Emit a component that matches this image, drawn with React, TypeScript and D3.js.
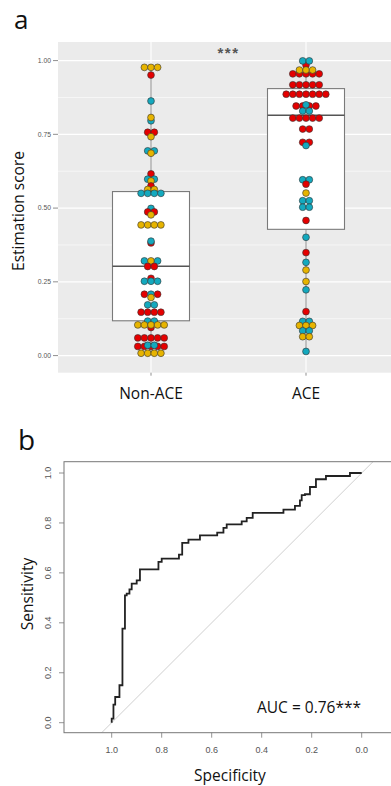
import React from "react";
import * as d3 from "d3";

// panel a: estimation scores, dot rows as [value, colours] (Y yellow, R red, T teal)
const groups = ["Non-ACE", "ACE"];

const nonAceRows: [number, string][] = [
  [0.977, "YYY"], [0.951, "R"], [0.863, "T"], [0.796, "T"], [0.807, "Y"],
  [0.757, "RR"], [0.742, "Y"], [0.694, "TT"], [0.686, "Y"], [0.616, "R"],
  [0.598, "TT"], [0.592, "Y"], [0.575, "R"], [0.563, "YY"], [0.55, "TTTT"],
  [0.499, "T"], [0.487, "RR"], [0.477, "Y"], [0.443, "YYYY"], [0.382, "R"],
  [0.388, "T"], [0.321, "TYT"], [0.302, "RR"], [0.262, "R"], [0.252, "TTT"],
  [0.208, "RTR"], [0.197, "Y"], [0.172, "TT"], [0.147, "RRRR"], [0.117, "TT"],
  [0.095, "R"], [0.104, "YYYYY"], [0.06, "RRRRR"], [0.031, "RRRRR"], [0.035, "TT"],
  [0.008, "YYYY"],
];

const aceRows: [number, string][] = [
  [0.985, "R"], [0.955, "RRRRR"], [0.968, "YYY"], [0.999, "TT"], [0.918, "RRRRR"],
  [0.886, "RRRRRRR"], [0.846, "RRRR"], [0.85, "T"], [0.829, "TT"], [0.805, "RRRRR"],
  [0.768, "RR"], [0.723, "RR"], [0.712, "T"], [0.596, "TT"], [0.581, "R"],
  [0.551, "Y"], [0.525, "TT"], [0.503, "TT"], [0.458, "R"], [0.401, "T"],
  [0.349, "R"], [0.316, "T"], [0.29, "Y"], [0.251, "Y"], [0.223, "T"],
  [0.149, "R"], [0.116, "TT"], [0.102, "YYY"], [0.084, "TT"], [0.064, "YY"],
  [0.014, "T"],
];

// q1, median, q3, whisker low, whisker high
const boxStats = [
  { group: "Non-ACE", q1: 0.118, med: 0.303, q3: 0.556, lo: 0.01, hi: 0.977 },
  { group: "ACE", q1: 0.428, med: 0.815, q3: 0.905, lo: 0.014, hi: 0.999 },
];

const yTicksA = [0, 0.25, 0.5, 0.75, 1];
const yMinorA = [0.125, 0.375, 0.625, 0.875];

// panel b: ROC curve (step vertices)
const specificity = [
  1.0, 0.993, 0.986, 0.969, 0.957, 0.947, 0.94, 0.929, 0.92, 0.9, 0.887,
  0.813, 0.8, 0.731, 0.718, 0.693, 0.647, 0.578, 0.553, 0.54, 0.48, 0.46,
  0.436, 0.313, 0.267, 0.247, 0.24, 0.227, 0.207, 0.183, 0.143, 0.047, 0.0,
];
const sensitivity = [
  0.0, 0.016, 0.072, 0.103, 0.15, 0.377, 0.51, 0.517, 0.534, 0.557, 0.57,
  0.614, 0.644, 0.657, 0.673, 0.72, 0.733, 0.75, 0.761, 0.78, 0.794, 0.806,
  0.82, 0.84, 0.853, 0.868, 0.89, 0.911, 0.915, 0.944, 0.975, 0.988, 1.0,
];
const rocTicks = [0, 0.2, 0.4, 0.6, 0.8, 1.0];

const dotColor: Record<string, string> = {
  Y: "#E7B400",
  R: "#E50000",
  T: "#14A9BE",
};

const sans = "'Open Sans', sans-serif";
const arial = "'Liberation Sans', Arial, sans-serif";

export default function App() {
  // panel a scales
  const xA = d3.scalePoint<string>().domain(groups).range([58, 399]).padding(0.6);
  const yA = d3.scaleLinear().domain([-0.058, 1.063]).range([372.7, 42]);
  const panelA = { left: 58, right: 399, top: 42, bottom: 372.7 };
  const boxHalf = 38.5;
  const step = 6.6;
  const r = 3.4;

  const dots: { x: number; y: number; c: string }[] = [];
  [nonAceRows, aceRows].forEach((rows, gi) => {
    const cx = xA(groups[gi])!;
    rows.forEach(([v, cols]) => {
      const n = cols.length;
      cols.split("").forEach((c, i) => {
        dots.push({ x: cx + (i - (n - 1) / 2) * step, y: yA(v), c });
      });
    });
  });

  // panel b scales
  const xB = d3.scaleLinear().domain([1, 0]).range([111.7, 361.7]);
  const yB = d3.scaleLinear().domain([0, 1]).range([722.7, 473]);
  const frame = { left: 64, right: 400, top: 461.7, bottom: 732.7 };
  const rocLine = d3
    .line<number>()
    .x((d) => xB(specificity[d]))
    .y((d) => yB(sensitivity[d]))
    .curve(d3.curveStepBefore);

  return (
    <svg
      width={391}
      height={786}
      style={{ position: "absolute", left: 0, top: 0, background: "#fff" }}
    >
      <defs>
        <clipPath id="rocClip">
          <rect x={frame.left} y={frame.top} width={frame.right - frame.left} height={frame.bottom - frame.top} />
        </clipPath>
      </defs>

      {/* ---------- panel a ---------- */}
      <text x={14} y={29} fontFamily={sans} fontSize={26} fill="#111">a</text>
      <rect
        x={panelA.left}
        y={panelA.top}
        width={panelA.right - panelA.left}
        height={panelA.bottom - panelA.top}
        fill="#EBEBEB"
      />
      {yMinorA.map((t) => (
        <line key={"m" + t} x1={panelA.left} x2={panelA.right} y1={yA(t)} y2={yA(t)} stroke="#fff" strokeWidth={0.6} />
      ))}
      {yTicksA.map((t) => (
        <line key={"g" + t} x1={panelA.left} x2={panelA.right} y1={yA(t)} y2={yA(t)} stroke="#fff" strokeWidth={1.1} />
      ))}
      {groups.map((g) => (
        <line key={"v" + g} x1={xA(g)} x2={xA(g)} y1={panelA.top} y2={panelA.bottom} stroke="#fff" strokeWidth={1.1} />
      ))}
      {yTicksA.map((t) => (
        <g key={"t" + t}>
          <line x1={53} x2={panelA.left} y1={yA(t)} y2={yA(t)} stroke="#444" strokeWidth={0.6} />
          <text x={51} y={yA(t)} dy="0.35em" textAnchor="end" fontFamily={arial} fontSize={6.8} fill="#555">
            {t.toFixed(2)}
          </text>
        </g>
      ))}
      {groups.map((g) => (
        <g key={"xt" + g}>
          <line x1={xA(g)} x2={xA(g)} y1={panelA.bottom} y2={panelA.bottom + 3} stroke="#444" strokeWidth={0.6} />
          <text x={xA(g)} y={399} textAnchor="middle" fontFamily={sans} fontSize={15.5} fill="#111">
            {g}
          </text>
        </g>
      ))}
      <text
        transform={`translate(24,211) rotate(-90)`}
        textAnchor="middle"
        fontFamily={sans}
        fontSize={15.5}
        fill="#111"
      >
        Estimation score
      </text>

      {boxStats.map((b) => {
        const cx = xA(b.group)!;
        return (
          <g key={"box" + b.group}>
            <line x1={cx} x2={cx} y1={yA(b.hi)} y2={yA(b.q3)} stroke="#8a8a8a" strokeWidth={1} />
            <line x1={cx} x2={cx} y1={yA(b.q1)} y2={yA(b.lo)} stroke="#8a8a8a" strokeWidth={1} />
            <rect
              x={cx - boxHalf}
              y={yA(b.q3)}
              width={boxHalf * 2}
              height={yA(b.q1) - yA(b.q3)}
              fill="#fff"
              stroke="#7a7a7a"
              strokeWidth={1.1}
            />
            <line x1={cx - boxHalf} x2={cx + boxHalf} y1={yA(b.med)} y2={yA(b.med)} stroke="#555" strokeWidth={1.5} />
          </g>
        );
      })}
      {dots.map((d, i) => (
        <circle key={i} cx={d.x} cy={d.y} r={r} fill={dotColor[d.c]} stroke="#333" strokeWidth={0.6} />
      ))}
      <text
        x={(xA("Non-ACE")! + xA("ACE")!) / 2}
        y={58}
        textAnchor="middle"
        fontFamily={arial}
        fontSize={15}
        fontWeight="bold"
        letterSpacing={1.5}
        fill="#555"
      >
        ***
      </text>

      {/* ---------- panel b ---------- */}
      <text x={18} y={450} fontFamily={sans} fontSize={28} fill="#111">b</text>
      <g clipPath="url(#rocClip)">
        <line
          x1={xB(1.06)}
          y1={yB(-0.06)}
          x2={xB(-0.12)}
          y2={yB(1.12)}
          stroke="#cfcfcf"
          strokeWidth={1}
        />
      </g>
      <path d={rocLine(d3.range(specificity.length)) ?? ""} fill="none" stroke="#222" strokeWidth={1.8} />
      <rect
        x={frame.left}
        y={frame.top}
        width={frame.right - frame.left}
        height={frame.bottom - frame.top}
        fill="none"
        stroke="#777"
        strokeWidth={1}
      />
      {rocTicks.map((t) => (
        <g key={"ry" + t}>
          <line x1={frame.left - 5} x2={frame.left} y1={yB(t)} y2={yB(t)} stroke="#777" strokeWidth={0.8} />
          <text
            transform={`translate(51,${yB(t)}) rotate(-90)`}
            textAnchor="middle"
            fontFamily={arial}
            fontSize={9}
            fill="#555"
          >
            {t.toFixed(1)}
          </text>
        </g>
      ))}
      {rocTicks.map((t) => (
        <g key={"rx" + t}>
          <line x1={xB(t)} x2={xB(t)} y1={frame.bottom} y2={frame.bottom + 5} stroke="#777" strokeWidth={0.8} />
          <text x={xB(t)} y={753} textAnchor="middle" fontFamily={arial} fontSize={9} fill="#555">
            {t.toFixed(1)}
          </text>
        </g>
      ))}
      <text
        transform={`translate(33,594) rotate(-90)`}
        textAnchor="middle"
        fontFamily={sans}
        fontSize={15.5}
        fill="#111"
      >
        Sensitivity
      </text>
      <text x={230} y={781} textAnchor="middle" fontFamily={sans} fontSize={15.5} fill="#111">
        Specificity
      </text>
      <text x={257} y={713} fontFamily={sans} fontSize={15.5} fill="#111">
        AUC = 0.76***
      </text>
    </svg>
  );
}
